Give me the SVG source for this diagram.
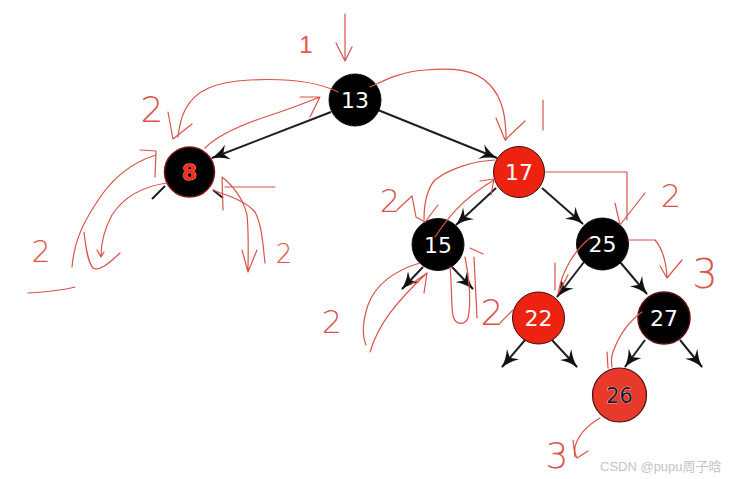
<svg xmlns="http://www.w3.org/2000/svg" width="729" height="479" viewBox="0 0 729 479">
<style>
.edge{stroke:#1e1e1e;stroke-width:2;fill:none}
.ink{stroke:#d9534a;stroke-width:1.2;fill:none;stroke-linecap:round;stroke-linejoin:round}
.hand{font-family:"DejaVu Sans","Liberation Sans",sans-serif;font-weight:200;fill:#d9534a;text-anchor:middle}
.lbl{font-family:"DejaVu Sans","Liberation Sans",sans-serif;font-size:22px;fill:#ffffff;text-anchor:middle}
.blk{fill:#000000;stroke:#111111;stroke-width:1}
.red{fill:#ee2211;stroke:#3a0a0a;stroke-width:1}
</style>
<defs>
<marker id="ah" markerUnits="userSpaceOnUse" markerWidth="18" markerHeight="16" viewBox="0 0 18 16" refX="17" refY="8" orient="auto">
<path d="M0,0 Q8,6 18,8 Q8,10 0,16 L5,8 Z" fill="#111111"/>
</marker>
</defs>
<rect width="729" height="479" fill="#ffffff"/>

<g id="connectors">
<line class="edge" x1="331" y1="112" x2="212" y2="158" marker-end="url(#ah)"/>
<line class="edge" x1="378" y1="110" x2="497" y2="158" marker-end="url(#ah)"/>
<line class="edge" x1="496" y1="188" x2="456" y2="225" marker-end="url(#ah)"/>
<line class="edge" x1="542" y1="188" x2="583" y2="224" marker-end="url(#ah)"/>
<line class="edge" x1="165" y1="186" x2="152" y2="199"/>
<line class="edge" x1="213" y1="190" x2="223" y2="198"/>
<line class="edge" x1="423" y1="267" x2="402" y2="289" marker-end="url(#ah)"/>
<line class="edge" x1="452" y1="267" x2="473" y2="289" marker-end="url(#ah)"/>
<line class="edge" x1="584" y1="262" x2="557" y2="297" marker-end="url(#ah)"/>
<line class="edge" x1="620" y1="262" x2="647" y2="294" marker-end="url(#ah)"/>
<line class="edge" x1="525" y1="340" x2="502" y2="367" marker-end="url(#ah)"/>
<line class="edge" x1="552" y1="340" x2="577" y2="367" marker-end="url(#ah)"/>
<line class="edge" x1="645" y1="340" x2="625" y2="367" marker-end="url(#ah)"/>
<line class="edge" x1="680" y1="340" x2="702" y2="367" marker-end="url(#ah)"/>
</g>

<g id="n13"><circle class="blk" cx="355" cy="100" r="26"/><text class="lbl" x="355" y="108">13</text></g>
<g id="n8"><circle cx="189.5" cy="172" r="25" fill="#000" stroke="#7a1414" stroke-width="1.5"/><text x="189.5" y="180" font-family="DejaVu Sans,Liberation Sans,sans-serif" font-size="22" font-weight="bold" fill="#ff2a1a" stroke="#ffb3a8" stroke-width="0.8" paint-order="stroke" text-anchor="middle">8</text></g>
<g id="n17"><circle class="red" cx="519" cy="172" r="25.5"/><text class="lbl" x="519" y="180">17</text></g>
<g id="n15"><circle class="blk" cx="438" cy="244.5" r="26"/><text class="lbl" x="438" y="252.5">15</text></g>
<g id="n25"><circle class="blk" cx="602.5" cy="244" r="26"/><text class="lbl" x="602.5" y="252">25</text></g>
<g id="n22"><circle class="red" cx="538.5" cy="318" r="26"/><text class="lbl" x="538.5" y="326">22</text></g>
<g id="n27"><circle cx="664" cy="318" r="26" fill="#000" stroke="#5a1010" stroke-width="1.5"/><text class="lbl" x="664" y="326">27</text></g>
<g id="n26"><circle cx="619.5" cy="395" r="27" fill="#e8392a" stroke="#4a0e0e" stroke-width="1.2"/><text x="619.5" y="403" font-family="DejaVu Sans,Liberation Sans,sans-serif" font-size="21" fill="#1a1a2a" stroke="#ffffff" stroke-width="0.6" paint-order="stroke" text-anchor="middle">26</text></g>

<g id="annotations">
<path class="ink" d="M370,87 C385,80 400,72 425,70 C450,68 475,68 490,85 C502,98 506,115 506,140"/>
<path class="ink" d="M496,118 L505,140 L525,121"/>
<path class="ink" d="M345,14 L345,60 M336,43 L345,61 L352,47"/>
<path class="ink" d="M543,100 L543,130"/>
<path class="ink" d="M338,92 C320,83 290,78 250,80 C215,82 195,90 185,110 C180,120 179,128 178,137"/>
<path class="ink" d="M168,112 L173,139 L192,124"/>
<path class="ink" d="M205,148 C215,138 235,127 265,117 C290,109 305,103 320,97 M300,97 L320,97 L310,117"/>
<path class="ink" d="M140,150 L156,151 L155,177 M156,155 C130,163 110,180 95,205 C80,228 74,245 72,267"/>
<path class="ink" d="M167,183 C145,186 125,195 112,215 C104,230 101,245 101,256 M97,250 L101,257 L104,252"/>
<path class="ink" d="M84,232 C86,250 88,262 93,268 C100,272 110,262 120,253"/>
<path class="ink" d="M28,293 C45,292 60,291 75,287"/>
<path class="ink" d="M225,187 L275,187"/>
<path class="ink" d="M223,210 L222,177 C232,185 243,198 247,215 C249,235 248,255 248,272 M242,250 L248,272 L257,250"/>
<path class="ink" d="M213,190 C225,195 245,200 255,212 C262,225 263,245 265,263"/>
<path class="ink" d="M495,160 C475,161 450,168 435,180 C426,190 424,205 424,220"/>
<path class="ink" d="M397,210 L412,196 L416,217 L425,222 L438,205"/>
<path class="ink" d="M435,237 C445,222 460,200 494,180 M480,181 L494,179 L491,195"/>
<path class="ink" d="M545,172 L627,172 L627,220 M615,203 L620,225 L645,193"/>
<path class="ink" d="M628,240 L655,240 C662,248 666,260 667,277 M660,266 L667,278 L682,260"/>
<path class="ink" d="M590,238 C575,250 562,270 558,294 M555,263 L555,290 M568,275 L558,294"/>
<path class="ink" d="M420,263 C395,270 375,285 368,305 C363,320 362,335 366,345"/>
<path class="ink" d="M370,352 C378,325 395,303 427,273 M410,285 L427,273 L424,293"/>
<path class="ink" d="M450,267 C452,285 451,305 453,316 C456,326 465,325 468,318 C471,305 470,280 465,257"/>
<path class="ink" d="M474,257 L477,318 M470,248 L483,254"/>
<path class="ink" d="M642,312 C628,322 618,338 613,352 C611,358 611,362 612,367 M607,352 L608,368"/>
<path class="ink" d="M600,418 C588,425 578,435 575,447 C574,452 576,456 577,458 L588,451 M573,440 L575,457"/>
<path class="ink" d="M500,323 L513,310"/>
<text x="306" y="53" font-family="Liberation Sans,sans-serif" font-size="24" fill="#e05a44" text-anchor="middle">1</text>
<text class="hand" x="152" y="122" font-size="36">2</text>
<text class="hand" x="41" y="262" font-size="30">2</text>
<text class="hand" x="284" y="263" font-size="26">2</text>
<text class="hand" x="390" y="212" font-size="32">2</text>
<text class="hand" x="671" y="207" font-size="32">2</text>
<text class="hand" x="705" y="288" font-size="40">3</text>
<text class="hand" x="332" y="333" font-size="32">2</text>
<text class="hand" x="492" y="325" font-size="36">2</text>
<text class="hand" x="557" y="468" font-size="36">3</text>
</g>
<text x="600" y="471" font-family="Liberation Sans,Noto Sans CJK SC,sans-serif" font-size="13" fill="#c4c4c4">CSDN @pupu周子晗</text>
</svg>
